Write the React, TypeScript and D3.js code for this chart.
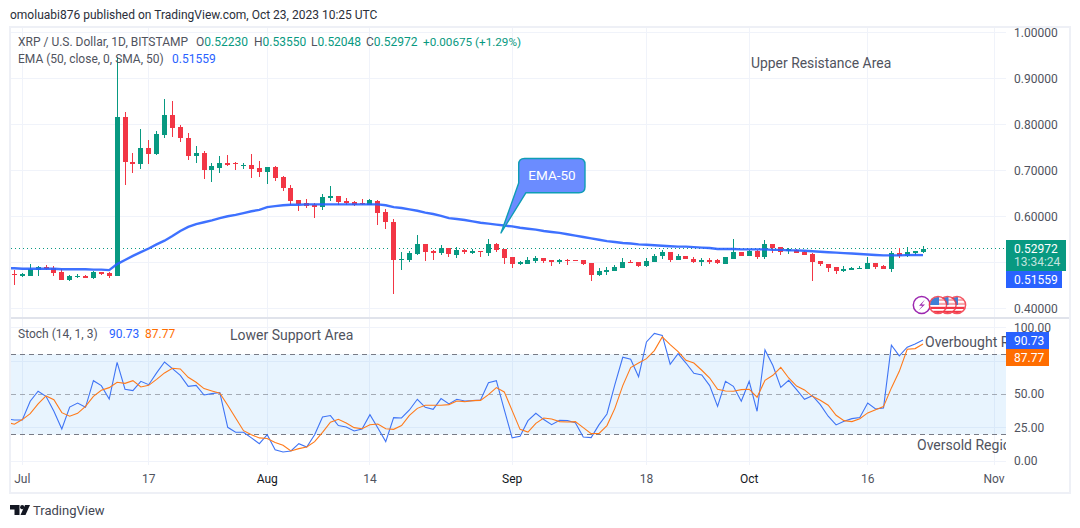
import React from "react";
import * as d3 from "d3";

const opens = [.475,.470,.470,.483,.490,.487,.479,.462,.469,.470,.466,.479,.477,.470,.816,.718,.714,.748,.735,.777,.820,.794,.770,.731,.738,.701,.705,.716,.716,.709,.712,.705,.696,.707,.685,.661,.635,.629,.625,.620,.640,.644,.633,.631,.628,.625,.633,.609,.588,.505,.505,.518,.540,.525,.520,.531,.516,.527,.520,.525,.520,.540,.529,.512,.496,.496,.503,.509,.505,.501,.506,.505,.505,.498,.472,.479,.481,.488,.501,.501,.492,.501,.514,.522,.505,.514,.507,.501,.505,.505,.496,.507,.522,.514,.525,.512,.540,.533,.525,.527,.522,.518,.503,.496,.490,.481,.484,.485,.485,.498,.492,.485,.520,.514,.520,.5223];
const highs = [.483,.477,.496,.492,.494,.491,.485,.472,.475,.472,.481,.479,.479,.946,.827,.738,.790,.766,.785,.855,.851,.799,.781,.753,.742,.716,.731,.733,.718,.716,.735,.720,.707,.709,.688,.668,.635,.638,.629,.648,.666,.644,.640,.633,.638,.638,.635,.616,.594,.522,.525,.559,.540,.527,.538,.531,.533,.529,.529,.525,.551,.542,.529,.512,.503,.512,.514,.509,.505,.507,.507,.505,.505,.498,.488,.490,.494,.509,.505,.501,.509,.518,.527,.522,.518,.514,.512,.509,.509,.507,.512,.551,.522,.527,.527,.548,.540,.533,.531,.529,.525,.520,.503,.496,.490,.492,.490,.492,.512,.498,.494,.525,.531,.533,.525,.5355];
const lows = [.451,.467,.470,.470,.483,.470,.462,.459,.466,.466,.464,.472,.466,.470,.668,.694,.703,.714,.733,.770,.772,.762,.722,.716,.681,.675,.694,.709,.701,.703,.683,.685,.670,.677,.655,.625,.612,.618,.596,.614,.633,.625,.625,.622,.625,.625,.581,.572,.431,.483,.501,.516,.503,.505,.516,.512,.509,.518,.518,.512,.514,.522,.496,.488,.494,.496,.498,.498,.492,.496,.494,.503,.494,.459,.470,.472,.481,.488,.498,.490,.490,.501,.507,.501,.505,.507,.498,.492,.496,.496,.496,.507,.514,.514,.507,.507,.520,.516,.518,.520,.516,.459,.492,.479,.475,.479,.483,.485,.485,.485,.485,.479,.509,.512,.516,.52048];
const closes = [.474,.475,.486,.489,.485,.477,.462,.470,.471,.466,.479,.475,.470,.816,.718,.714,.748,.735,.779,.820,.792,.770,.731,.738,.701,.709,.716,.712,.714,.712,.703,.696,.707,.683,.661,.633,.627,.622,.620,.642,.644,.631,.629,.625,.626,.635,.607,.588,.505,.507,.520,.540,.522,.520,.531,.518,.527,.522,.525,.522,.540,.527,.509,.496,.501,.505,.509,.503,.501,.505,.503,.503,.496,.472,.481,.483,.490,.501,.498,.492,.503,.514,.522,.505,.514,.507,.501,.505,.501,.498,.512,.522,.514,.525,.512,.540,.531,.522,.529,.520,.516,.501,.496,.488,.481,.485,.488,.488,.498,.490,.485,.520,.514,.522,.525,.52972];
// EMA starts one session before the first visible candle
const emaValues = [.487,.487,.486,.486,.486,.486,.486,.485,.485,.485,.485,.484,.484,.483,.496,.505,.514,.522,.530,.539,.547,.557,.568,.577,.583,.587,.591,.596,.600,.603,.607,.611,.614,.620,.622,.624,.625,.625,.626,.626,.626,.626,.626,.626,.626,.626,.626,.626,.624,.620,.618,.615,.612,.608,.605,.601,.596,.594,.592,.589,.586,.584,.582,.580,.578,.575,.573,.571,.568,.566,.564,.561,.558,.555,.552,.549,.546,.544,.542,.541,.539,.538,.537,.536,.535,.534,.534,.533,.532,.531,.529,.529,.529,.528,.528,.528,.528,.527,.527,.526,.526,.525,.524,.523,.522,.521,.520,.519,.518,.517,.516,.515,.515,.515,.5155,.516,.51559];
const stochK = [31.7,30.9,30.9,44.9,52.4,48.6,37.4,24.2,40.6,43.6,40.4,60.3,56.6,46.6,74.0,53.9,52.9,59.8,57.3,66.1,74.3,69.3,64.3,56.1,56.8,49.6,50.6,51.4,25.4,21.7,21.7,17.5,13.2,19.9,8.7,7.0,7.7,13.2,10.7,19.9,33.2,34.2,26.7,25.7,22.7,24.2,34.9,24.9,14.7,32.7,32.4,38.4,46.4,40.4,38.9,46.9,42.9,46.4,45.1,45.4,45.9,58.8,60.3,38.6,17.5,18.7,30.4,35.9,31.2,27.4,30.7,30.4,28.9,18.2,17.7,27.4,35.4,57.3,77.8,76.3,63.3,89.3,95.7,94.2,72.6,80.5,73.5,65.8,64.6,56.6,41.1,59.8,56.1,44.9,59.8,37.4,83.3,71.6,55.3,60.6,53.6,46.4,49.1,42.4,33.7,27.2,29.9,31.9,32.7,43.6,39.1,39.9,86.8,78.8,85.3,87.8,90.73];
const stochD = [29.2,27.7,31.2,35.7,42.9,48.9,46.1,36.4,33.7,35.9,41.1,48.6,53.1,55.1,59.1,58.3,60.3,55.6,56.8,61.3,66.1,69.6,69.1,62.8,59.1,54.4,52.6,50.9,41.9,32.4,22.9,19.9,17.5,17.0,14.0,12.0,7.7,9.5,10.7,14.7,21.7,29.2,31.4,28.7,25.2,24.4,27.4,27.9,24.4,23.9,26.7,34.4,39.6,41.9,41.9,41.9,42.4,45.1,44.6,45.4,45.6,49.9,55.1,51.9,37.9,23.9,21.9,28.4,32.4,31.7,29.7,29.4,29.7,25.2,20.7,20.9,26.7,39.6,56.6,70.1,73.5,76.8,82.8,93.0,87.3,82.0,75.5,73.5,68.1,62.3,53.9,52.6,52.4,53.6,53.9,47.9,60.6,64.3,70.3,62.3,56.3,53.4,48.6,45.6,41.9,34.4,30.4,29.7,31.9,36.2,38.6,40.9,54.9,67.3,83.8,84.3,87.77];

const priceTicks = [1.0, 0.9, 0.8, 0.7, 0.6, 0.4];
const priceGrid = [1.0, 0.9, 0.8, 0.7, 0.6, 0.5, 0.4];
const stochTicks = [100, 50, 25, 0];
const stochGrid = [100, 75, 25, 0];
const stochDashes = [80, 50, 20];
const timeIdx = [1, 17, 32, 45, 63, 80, 93, 108, 124];
const timeLabels = ["Jul", "17", "Aug", "14", "Sep", "18", "Oct", "16", "Nov"];
const boldTime = ["Aug", "Sep", "Oct"];

const UP = "#089981", DOWN = "#f23645", BLUE = "#2962ff", ORANGE = "#ff6d00";
const TXT = "#131722", AXIS = "#50535e", GRID = "#f0f3fa", SANS = "Roboto, 'Open Sans', sans-serif";
const PLOT_R = 1006;

const x = d3.scaleLinear().domain([0, 115]).range([14.4, 923]);
const y = d3.scaleLinear().domain([0.4, 1]).range([308.3, 32.3]);
const s = d3.scaleLinear().domain([0, 100]).range([461.3, 327.6]);
const crisp = (v: number) => Math.floor(v) + 0.5;

const emaPath = d3.line<number>().x((_, i) => x(i - 1)).y(v => y(v))(emaValues)!;
const mkStoch = d3.line<number>().x((_, i) => x(i - 1)).y(v => s(v));

function Flag({ cx, cy }: { cx: number; cy: number }) {
  const r = 8;
  const id = `f${cx}`;
  return (
    <g>
      <clipPath id={id}><circle cx={cx} cy={cy} r={r} /></clipPath>
      <circle cx={cx} cy={cy} r={r} fill="#fff" />
      <g clipPath={`url(#${id})`}>
        {[-6, -2, 2, 6].map(d => <rect key={d} x={cx - r} y={cy + d - 0.2} width={2 * r} height={2.2} fill={d < 0 ? "#f7a8ad" : "#f23645"} />)}
        <rect x={cx - r} y={cy - r} width={r + 1} height={r} fill="#3f7fd6" />
      </g>
      <circle cx={cx} cy={cy} r={r + 0.6} fill="none" stroke="#f23645" strokeWidth={1.5} opacity={0.85} />
    </g>
  );
}

export default function App() {
  return (
    <svg width={1080} height={528} viewBox="0 0 1080 528" style={{ position: "absolute", left: 0, top: 0, background: "#fff" }} fontFamily={SANS}>
      <defs>
        <clipPath id="pricePane"><rect x={11} y={28} width={PLOT_R - 11} height={289} /></clipPath>
        <clipPath id="stochPane"><rect x={11} y={319} width={PLOT_R - 11} height={146} /></clipPath>
      </defs>
      <rect width={1080} height={528} fill="#fff" />
      <text x={10} y={19} fontSize={12} fill="#2a2e39">omoluabi876 published on TradingView.com, Oct 23, 2023 10:25 UTC</text>

      {priceGrid.map(t => <line key={t} x1={11} x2={PLOT_R} y1={crisp(y(t))} y2={crisp(y(t))} stroke={GRID} />)}
      {stochGrid.map(t => <line key={t} x1={11} x2={PLOT_R} y1={crisp(s(t))} y2={crisp(s(t))} stroke={GRID} />)}
      {timeIdx.map(t => <line key={t} x1={crisp(x(t))} x2={crisp(x(t))} y1={28} y2={465} stroke={GRID} />)}

      <g clipPath="url(#pricePane)">
        <line x1={11} x2={PLOT_R} y1={crisp(y(closes[115]))} y2={crisp(y(closes[115]))} stroke={UP} strokeDasharray="1 3" strokeWidth={1} />
        {opens.map((o, i) => {
          const c = closes[i];
          const col = c >= o ? UP : DOWN;
          const top = Math.round(y(Math.max(o, c))), bot = Math.round(y(Math.min(o, c)));
          const cx = Math.floor(x(i));
          const hi = Math.round(y(highs[i])), lo = Math.round(y(lows[i]));
          return (
            <g key={i} fill={col} shapeRendering="crispEdges">
              <rect x={cx} width={1} y={hi} height={lo - hi} />
              <rect x={cx - 2} width={5} y={top} height={Math.max(bot - top, 1)} />
            </g>
          );
        })}
        <path d={emaPath} fill="none" stroke={BLUE} strokeWidth={2.4} opacity={0.9} />
      </g>

      <path d="M524.5,158.5 H579 Q585,158.5 585,164.5 V187 Q585,192.7 579,192.7 H526 L501,233 L518.7,183 V164.5 Q518.7,158.5 524.5,158.5 Z" fill="#6b8cff" stroke="#0f9db5" strokeWidth={1.4} strokeLinejoin="round" />
      <text x={552} y={180} fontSize={13.5} fill="#fff" textAnchor="middle">EMA-50</text>

      <g>
        <circle cx={921.7} cy={305} r={8.4} fill="#fff" stroke="#9c27b0" strokeWidth={1.5} />
        <path d="M925,299.5 L919,305.8 H922.4 L918.5,310.5 L925,304.4 H921.6 Z" fill="#9c27b0" />
        <Flag cx={957} cy={305} />
        <Flag cx={947.5} cy={305} />
        <Flag cx={938} cy={305} />
      </g>

      <text fontSize={12} y={45.5} fill={AXIS}>
        <tspan x={18}>XRP / U.S. Dollar, 1D, BITSTAMP</tspan>
        <tspan x={196}>O</tspan><tspan fill={UP}>0.52230</tspan>
        <tspan x={254}>H</tspan><tspan fill={UP}>0.53550</tspan>
        <tspan x={311}>L</tspan><tspan fill={UP}>0.52048</tspan>
        <tspan x={366}>C</tspan><tspan fill={UP}>0.52972</tspan>
        <tspan x={423} fontSize={11.7} fill={UP}>+0.00675 (+1.29%)</tspan>
      </text>
      <text fontSize={12} y={62.5} fill={AXIS}>
        <tspan x={18}>EMA (50, close, 0, SMA, 50)</tspan>
        <tspan x={172} fill={BLUE}>0.51559</tspan>
      </text>
      <text x={751} y={67.5} fontSize={13.9} fill={AXIS}>Upper Resistance Area</text>

      <line x1={11} x2={1070} y1={318} y2={318} stroke="#e0e3eb" strokeWidth={2} />

      <rect x={11} width={PLOT_R - 11} y={s(80)} height={s(20) - s(80)} fill="#2196f3" fillOpacity={0.1} />
      {stochDashes.map(t => (
        <line key={t} x1={11} x2={PLOT_R} y1={crisp(s(t))} y2={crisp(s(t))} stroke="#787b86" strokeDasharray="5 4" opacity={t === 50 ? 0.6 : 1} />
      ))}
      <g clipPath="url(#stochPane)" fill="none">
        <path d={mkStoch(stochK)!} stroke="#3f74f5" strokeWidth={1.1} />
        <path d={mkStoch(stochD)!} stroke="#ff7a1a" strokeWidth={1.1} />
        <text x={925} y={347} fontSize={14} fill={AXIS} stroke="none">Overbought Region</text>
        <text x={917} y={450} fontSize={14} fill={AXIS} stroke="none">Oversold Region</text>
      </g>
      <text fontSize={12} y={338} fill={AXIS}>
        <tspan x={18}>Stoch (14, 1, 3)</tspan>
        <tspan x={109} fill={BLUE}>90.73</tspan>
        <tspan x={145} fill={ORANGE}>87.77</tspan>
      </text>
      <text x={230} y={340} fontSize={14} fill={AXIS}>Lower Support Area</text>

      {priceTicks.map(t => <text key={t} x={1014} y={y(t) + 4.2} fontSize={12} fill={AXIS}>{t.toFixed(5)}</text>)}
      {stochTicks.map(t => <text key={t} x={1014} y={s(t) + 4} fontSize={12} fill={AXIS}>{t.toFixed(2)}</text>)}

      <rect x={1006} y={240} width={60} height={31} fill={UP} />
      <text x={1014} y={253} fontSize={12} fill="#fff">0.52972</text>
      <text x={1014} y={266} fontSize={12} fill="#fff" fillOpacity={0.75}>13:34:24</text>
      <rect x={1006} y={271} width={56} height={17} fill={BLUE} />
      <text x={1014} y={284} fontSize={12} fill="#fff">0.51559</text>
      <rect x={1006} y={332} width={43} height={17} fill={BLUE} />
      <text x={1014} y={345} fontSize={12} fill="#fff">90.73</text>
      <rect x={1006} y={349} width={43} height={17} fill={ORANGE} />
      <text x={1014} y={362} fontSize={12} fill="#fff">87.77</text>

      {timeLabels.map((l, i) => (
        <text key={l} x={x(timeIdx[i])} y={483} fontSize={12} textAnchor="middle" fill={boldTime.includes(l) ? TXT : AXIS}>{l}</text>
      ))}

      <rect x={10} y={27} width={1060} height={466} fill="none" stroke="#eef0f6" strokeWidth={2} />

      <g fill="#131722">
        <path d="M10,505 H19.5 V515 H14.5 V509.5 H10 Z" />
        <circle cx={22.2} cy={507.2} r={2.1} />
        <path d="M25,505 H30 L25.5,515 H20.5 Z" />
      </g>
      <text x={33} y={515} fontSize={13} fill="#434651">TradingView</text>
    </svg>
  );
}
